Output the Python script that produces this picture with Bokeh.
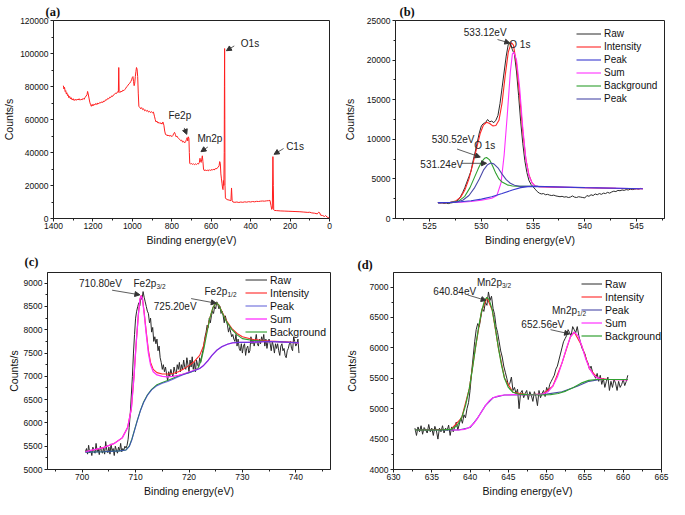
from bokeh.plotting import figure
from bokeh.layouts import column, row
from bokeh.models import (Range1d, FixedTicker, Legend, LegendItem, Arrow,
                          NormalHead, BasicTickFormatter)
from bokeh.core.properties import value
from bokeh.embed import file_html
from bokeh.resources import INLINE

FONT = "Liberation Sans"
SERIF = "Liberation Serif"

# ---------------- (a) survey spectrum ----------------
A_XTICKS = [0, 200, 400, 600, 800, 1000, 1200, 1400]
A_XMINOR = [100, 300, 500, 700, 900, 1100, 1300]
A_YTICKS = [0, 20000, 40000, 60000, 80000, 100000, 120000]
A_YMINOR = [10000, 30000, 50000, 70000, 90000, 110000]
SURVEY = [
    (1350, 80500), (1347, 78500), (1344, 79500), (1341, 77000), (1338, 77500), (1335, 75500),
    (1332, 76200), (1329, 74500), (1326, 75000), (1322, 73200), (1318, 74000), (1314, 72500),
    (1310, 73200), (1305, 71800), (1300, 72600), (1295, 71500), (1290, 72300), (1285, 71600),
    (1280, 72400), (1275, 71800), (1270, 72600), (1265, 71700), (1260, 72300), (1255, 71900),
    (1250, 72800), (1245, 72200), (1240, 73300), (1235, 74200), (1230, 75000), (1227, 77000),
    (1224, 75500), (1220, 73000), (1216, 70500), (1212, 69000), (1208, 68000), (1204, 69200),
    (1200, 68200), (1195, 69300), (1190, 68800), (1185, 69800), (1180, 69000), (1175, 70000),
    (1170, 69500), (1165, 70400), (1160, 70000), (1155, 70800), (1150, 70300), (1145, 71200),
    (1140, 71000), (1135, 72000), (1130, 71800), (1125, 72800), (1120, 72500), (1115, 73500),
    (1110, 73300), (1105, 74300), (1100, 74000), (1095, 75000), (1090, 75300), (1085, 76000),
    (1080, 75800), (1075, 76800), (1071, 76500), (1069, 91500), (1067, 77000), (1063, 76300),
    (1058, 77200), (1053, 76800), (1048, 77800), (1043, 77500), (1038, 78200), (1033, 79000),
    (1028, 80000), (1023, 80500), (1018, 81500), (1013, 82000), (1008, 83000), (1004, 84000),
    (1000, 85500), (997, 86000), (994, 83000), (991, 80500), (988, 82000), (985, 86000),
    (982, 89000), (979, 91500), (976, 90500), (973, 86000), (970, 76000), (967, 68000),
    (963, 67500), (958, 66500), (953, 67200), (948, 66000), (943, 66500), (938, 65300),
    (933, 65800), (928, 65000), (923, 65500), (918, 64500), (913, 65000), (908, 64200),
    (903, 64800), (898, 64000), (893, 64500), (888, 62000), (884, 60000), (880, 58500),
    (875, 59000), (870, 57800), (865, 58300), (860, 57500), (855, 58000), (850, 57200),
    (845, 58500), (840, 56500), (836, 53000), (832, 51000), (828, 50500), (824, 50800),
    (820, 50000), (815, 50600), (810, 49800), (805, 50400), (800, 49600), (795, 50200),
    (790, 51500), (786, 52200), (782, 51000), (778, 49500), (774, 50000), (770, 49000),
    (765, 48500), (760, 48000), (755, 47200), (750, 47500), (745, 46300), (740, 46800),
    (735, 45800), (730, 46500), (726, 47800), (722, 49000), (719, 47000), (716, 49500),
    (713, 48500), (711, 40000), (709, 33500), (705, 33000), (700, 33300), (695, 32800),
    (690, 33200), (685, 32600), (680, 33100), (675, 32700), (670, 33300), (665, 33000),
    (660, 34000), (657, 36500), (654, 34500), (651, 34000), (648, 36000), (645, 38000),
    (642, 34500), (639, 30000), (635, 29000), (630, 29500), (625, 28800), (620, 29400),
    (615, 28900), (610, 29600), (605, 29000), (600, 29700), (595, 29200), (590, 29900),
    (585, 29400), (580, 30200), (575, 30000), (570, 30600), (565, 31000), (560, 32000),
    (557, 34500), (554, 33500), (551, 27000), (548, 24000), (545, 21000), (542, 18000),
    (540, 17500), (538, 23000), (536, 20000), (534, 40000), (533, 80000), (532, 103000),
    (531, 60000), (530, 20000), (528, 12500), (524, 11800), (520, 11500), (515, 11300),
    (510, 11200), (505, 11000), (500, 10800), (497, 18500), (494, 11000), (490, 10000),
    (480, 9800), (470, 10000), (460, 9700), (450, 10000), (440, 9800), (430, 10100),
    (420, 9900), (410, 10200), (400, 10000), (390, 10300), (380, 10100), (370, 10400),
    (360, 10300), (350, 10500), (340, 10600), (330, 10500), (320, 10700), (310, 10800),
    (302, 11000), (297, 8000), (293, 5500), (290, 6000), (287, 37500), (285, 20000),
    (283, 5200), (280, 4900), (270, 4800), (250, 4600), (230, 4500), (210, 4400),
    (190, 4300), (170, 4200), (150, 4100), (130, 3900), (110, 3700), (100, 3800),
    (90, 3400), (75, 3200), (62, 2800), (55, 3800), (50, 3500), (45, 2000),
    (35, 1800), (25, 1200), (20, 1800), (12, 800), (5, 600), (0, 200),
]

# ---------------- (b) O 1s ----------------
B_XTICKS = [525, 530, 535, 540, 545]
B_XMINOR = [522.5, 527.5, 532.5, 537.5, 542.5, 547.5]
B_YTICKS = [0, 5000, 10000, 15000, 20000, 25000]
B_YMINOR = [2500, 7500, 12500, 17500, 22500]
RAW_B_START, RAW_B_STEP = 525.8, 0.2
RAW_B = [2000, 1950, 1980, 1900, 1950, 1880, 1950, 2000, 2050, 2150,
         2400, 2800, 3300, 3900, 4600, 5300, 6000, 7300, 8400, 9600,
         10800, 11700, 12000, 12100, 12500, 12200, 12300, 12100, 12400, 13000,
         14500, 16500, 18500, 20500, 22000, 22100, 21300, 20700, 18500, 15500,
         12200, 9500, 7300, 5800, 4800, 4300, 4000, 3700, 3400, 3200,
         3100, 3150, 3000, 3050, 2950, 2900, 2950, 2850, 2800, 2750,
         2800, 2700, 2750, 2650, 2700, 2850, 2700, 2650, 2750, 2700,
         2650, 2600, 2900, 2800, 3000, 2900, 3100, 3000, 3150, 3050,
         3200, 3150, 3300, 3200, 3350, 3450, 3400, 3550, 3500, 3600,
         3550, 3650, 3600, 3700, 3650, 3700, 3750, 3700, 3800, 3750]
B_INTENSITY = [(525.8, 2000), (526.5, 2000), (527.0, 2050), (527.5, 2200), (528.0, 2700),
               (528.4, 3600), (528.8, 5000), (529.2, 7000), (529.6, 9200), (529.9, 10800),
               (530.2, 11800), (530.5, 12150), (530.8, 12000), (531.1, 11700), (531.4, 11750),
               (531.7, 12400), (532.0, 14600), (532.3, 18000), (532.6, 21000), (532.9, 22200),
               (533.1, 21900), (533.4, 19500), (533.7, 15500), (534.0, 11000), (534.3, 7500),
               (534.6, 5500), (534.9, 4500), (535.2, 4100), (535.6, 4000), (537.0, 3960),
               (540.0, 3880), (543.0, 3800), (545.6, 3750)]
B_SUM = [(525.8, 2000), (528.0, 2050), (529.0, 2150), (530.0, 2300), (531.0, 2550),
         (531.5, 2900), (531.9, 4500), (532.2, 8000), (532.5, 13000), (532.8, 18500),
         (533.0, 20800), (533.15, 21000), (533.4, 20000), (533.7, 16500), (534.0, 11500),
         (534.3, 7500), (534.6, 5400), (534.9, 4500), (535.2, 4100), (535.6, 4000), (545.6, 3750)]
B_BACKGROUND = [(525.8, 2000), (527.0, 2020), (527.8, 2200), (528.4, 2800), (528.9, 3900),
                (529.3, 5100), (529.7, 6300), (530.0, 7100), (530.3, 7600), (530.5, 7700),
                (530.8, 7400), (531.1, 6600), (531.4, 5700), (531.7, 5000), (532.0, 4600),
                (532.5, 4250), (533.0, 4100), (533.8, 4050), (535.0, 4050)]
B_PEAK2 = [(525.8, 2000), (527.5, 2050), (528.2, 2300), (528.8, 2900), (529.3, 3800),
           (529.8, 5000), (530.2, 6100), (530.6, 6800), (530.9, 7000), (531.2, 6900),
           (531.6, 6400), (532.0, 5600), (532.4, 4900), (532.8, 4450), (533.2, 4200),
           (533.7, 4080), (534.5, 4050), (535.5, 4050)]
B_PEAK = [(525.8, 2000), (527.0, 2030), (528.0, 2120), (529.0, 2250), (530.0, 2450),
          (531.0, 2750), (532.0, 3150), (533.0, 3600), (533.8, 3900), (534.5, 4030),
          (535.2, 4050), (540.0, 3900), (545.6, 3750)]
B_ZERO = [(530.9, 0), (547.7, 0)]

# ---------------- (c) Fe 2p ----------------
C_XTICKS = [700, 710, 720, 730, 740]
C_XMINOR = [695, 705, 715, 725, 735, 745]
C_YTICKS = [5000, 5500, 6000, 6500, 7000, 7500, 8000, 8500, 9000]
C_YMINOR = [5250, 5750, 6250, 6750, 7250, 7750, 8250, 8750, 9250]
RAW_C_START, RAW_C_STEP = 700.6, 0.2
RAW_C = [5380, 5450, 5330, 5520, 5360, 5420, 5300, 5480, 5400, 5350,
         5560, 5380, 5440, 5320, 5500, 5400, 5350, 5470, 5330, 5600,
         5420, 5360, 5480, 5330, 5550, 5400, 5450, 5300, 5500, 5420,
         5350, 5480, 5400, 5560, 5380, 5450, 5420, 5500, 5460, 5520,
         5650, 5900, 6200, 6600, 7000, 7500, 7900, 8250, 8400, 8500,
         8580, 8520, 8700, 8650, 8820, 8700, 8600, 8500, 8400, 8350,
         8150, 8250, 7950, 8050, 7750, 7850, 7700, 7800, 7550, 7650,
         7400, 7300, 7150, 7250, 7100, 7200, 7050, 6900, 7100, 7000,
         7150, 7050, 7000, 7200, 7100, 7050, 7250, 7150, 7300, 7100,
         7250, 7150, 7350, 7200, 7150, 7400, 7250, 7100, 7350, 7200,
         7420, 7150, 7300, 7100, 7350, 7250, 7200, 7400, 7300, 7450,
         7550, 7700, 7850, 7950, 8100, 8050, 8250, 8150, 8300, 8400,
         8350, 8500, 8450, 8600, 8550, 8450, 8500, 8350, 8400, 8300,
         8150, 8300, 8200, 8100, 7950, 8050, 7950, 7850, 7900, 7800,
         7750, 7900, 7650, 7800, 7600, 7550, 7700, 7500, 7650, 7700,
         7450, 7600, 7650, 7500, 7550, 7850, 7700, 7800, 7650, 7750,
         7900, 7700, 7650, 7800, 7700, 7850, 7750, 7900, 7650, 7800,
         7600, 7750, 7800, 7700, 7550, 7750, 7650, 7500, 7700, 7600,
         7700, 7550, 7450, 7650, 7700, 7550, 7600, 7450, 7400, 7550,
         7600, 7700, 7750, 7600, 7550, 7850, 7750, 7650, 7700, 7800,
         7500]
C_SUM = [(700.6, 5380), (702.0, 5420), (704.0, 5470), (706.0, 5560), (707.5, 5680),
         (708.5, 5900), (709.2, 6300), (709.7, 7000), (710.1, 7700), (710.5, 8300),
         (710.8, 8650), (711.05, 8730), (711.3, 8650), (711.6, 8350), (712.0, 7900),
         (712.4, 7500), (712.8, 7250), (713.3, 7100), (714.0, 7030), (715.0, 7000),
         (716.0, 6990), (717.0, 7000), (718.0, 7020), (719.0, 7050), (720.0, 7090),
         (721.0, 7130), (722.0, 7170), (722.7, 7230), (723.5, 7330), (724.3, 7450),
         (725.2, 7560), (726.2, 7640), (727.2, 7690), (728.2, 7720), (729.5, 7730),
         (731.0, 7730), (733.0, 7740), (735.0, 7750), (737.0, 7740), (740.6, 7720)]
C_INTENSITY = [(700.6, 5380), (702.0, 5420), (704.0, 5470), (706.0, 5560), (707.5, 5680),
               (708.5, 5900), (709.2, 6300), (709.7, 7000), (710.1, 7700), (710.5, 8300),
               (710.8, 8650), (711.05, 8740), (711.3, 8660), (711.6, 8380), (712.0, 7950),
               (712.4, 7560), (712.8, 7300), (713.3, 7150), (714.0, 7080), (715.0, 7050),
               (716.0, 7050), (717.0, 7060), (718.0, 7100), (719.0, 7160), (720.0, 7230),
               (721.0, 7320), (722.0, 7450), (722.7, 7650), (723.3, 7950), (723.9, 8250),
               (724.5, 8480), (725.1, 8580), (725.6, 8530), (726.2, 8380), (727.0, 8200),
               (728.0, 8030), (729.0, 7920), (730.0, 7850), (732.0, 7790), (735.0, 7760),
               (738.0, 7740), (740.6, 7720)]
C_BACKGROUND = [(700.6, 5370), (704.0, 5380), (707.0, 5400), (708.2, 5420), (708.8, 5500),
                (709.3, 5650), (709.8, 5850), (710.3, 6050), (710.9, 6270), (711.5, 6450),
                (712.2, 6600), (713.0, 6720), (714.0, 6820), (715.0, 6870), (716.0, 6910),
                (717.0, 6960), (718.0, 7010), (719.0, 7050), (720.0, 7080), (721.0, 7120),
                (721.7, 7180), (722.3, 7350), (722.8, 7600), (723.3, 7900), (723.9, 8250),
                (724.5, 8480), (725.1, 8580), (725.6, 8530), (726.2, 8370), (727.0, 8180),
                (728.0, 8010), (729.0, 7890), (730.0, 7810), (732.0, 7770), (735.0, 7750),
                (740.6, 7720)]
C_PEAK = [(700.6, 5370), (704.0, 5380), (707.0, 5400), (708.2, 5420), (708.8, 5490),
          (709.3, 5640), (709.8, 5840), (710.3, 6040), (710.9, 6260), (711.5, 6440),
          (712.2, 6590), (713.0, 6710), (714.0, 6800), (715.0, 6850), (716.0, 6890),
          (717.0, 6940), (718.0, 6990), (719.0, 7040), (720.0, 7080), (721.0, 7120),
          (722.0, 7170), (722.7, 7230), (723.5, 7330), (724.3, 7450), (725.2, 7560),
          (726.2, 7640), (727.2, 7690), (728.2, 7720), (729.5, 7730), (731.0, 7730),
          (733.0, 7740), (735.0, 7750), (737.0, 7740), (740.6, 7720)]

# ---------------- (d) Mn 2p ----------------
D_XTICKS = [630, 635, 640, 645, 650, 655, 660, 665]
D_XMINOR = [632.5, 637.5, 642.5, 647.5, 652.5, 657.5, 662.5]
D_YTICKS = [4000, 4500, 5000, 5500, 6000, 6500, 7000]
D_YMINOR = [4250, 4750, 5250, 5750, 6250, 6750, 7250]
RAW_D_START, RAW_D_STEP = 632.8, 0.2
RAW_D = [4680, 4560, 4700, 4620, 4720, 4580, 4690, 4650, 4600, 4740,
         4620, 4680, 4560, 4710, 4640, 4500, 4680, 4620, 4720, 4600,
         4680, 4640, 4730, 4560, 4700, 4620, 4700, 4780, 4650, 4750,
         4850, 4760, 4900, 4850, 5000, 5100, 5300, 5600, 5850, 6100,
         6300, 6400, 6350, 6500, 6650, 6600, 6750, 6700, 6920, 6780,
         6850, 6650, 6550, 6350, 6250, 6100, 5950, 5850, 5700, 5600,
         5500, 5380, 5420, 5520, 5300, 5350, 5250, 5320, 5000, 5260,
         5300, 5180, 5250, 5300, 5150, 5280, 5220, 5120, 5280, 5200,
         5050, 5300, 5180, 5250, 5300, 5200, 5350, 5280, 5400, 5450,
         5500, 5550, 5650, 5700, 5800, 5900, 6000, 6100, 6150, 6200,
         6300, 6250, 6200, 6350, 6300, 6250, 6350, 6200, 6100, 6000,
         5950, 5900, 5800, 5750, 5650, 5700, 5600, 5550, 5500, 5580,
         5450, 5550, 5400, 5500, 5350, 5450, 5520, 5300, 5450, 5350,
         5480, 5420, 5300, 5450, 5350, 5400, 5480, 5380, 5450, 5550]
D_INTENSITY = [(632.8, 4650), (637.5, 4660), (638.9, 4850), (639.9, 5330), (640.7, 6000),
               (641.5, 6600), (642.2, 6830), (642.9, 6620), (643.7, 6000), (644.5, 5500),
               (645.6, 5270), (647.5, 5230), (649.5, 5240), (650.8, 5370), (652.0, 5750),
               (653.1, 6180), (653.6, 6260), (654.6, 6030), (655.6, 5660), (656.6, 5510),
               (658.0, 5480), (660.6, 5475)]
D_PEAK = [(632.8, 4650), (638.5, 4650), (640.0, 4690), (641.0, 4850), (642.0, 5050),
          (643.0, 5180), (644.5, 5225), (648.0, 5230), (650.0, 5240), (652.0, 5280),
          (654.0, 5370), (655.5, 5450), (657.0, 5480), (660.6, 5480)]
D_SUM = [(637.5, 4650), (638.5, 4650), (639.3, 4660), (639.9, 4690), (640.5, 4760),
         (641.0, 4850), (641.5, 4950), (642.0, 5050), (642.5, 5130), (643.0, 5180),
         (643.7, 5210), (644.5, 5225), (645.5, 5230), (647.0, 5230), (648.5, 5230),
         (649.5, 5240), (650.2, 5280), (650.8, 5370), (651.4, 5520), (652.0, 5750),
         (652.6, 6000), (653.1, 6180), (653.6, 6260), (654.1, 6200), (654.6, 6030),
         (655.1, 5820), (655.6, 5660), (656.1, 5560), (656.6, 5510), (657.2, 5485),
         (658.0, 5480), (660.6, 5475)]
D_BACKGROUND = [(632.8, 4650), (636.0, 4650), (637.5, 4660), (638.3, 4720), (638.9, 4850),
                (639.4, 5050), (639.9, 5330), (640.3, 5650), (640.7, 6000), (641.1, 6330),
                (641.5, 6600), (641.9, 6780), (642.2, 6830), (642.5, 6790), (642.9, 6620),
                (643.3, 6330), (643.7, 6000), (644.1, 5720), (644.5, 5500), (645.0, 5350),
                (645.6, 5270), (646.3, 5240), (647.5, 5230), (649.0, 5225), (650.5, 5230),
                (651.5, 5250), (652.5, 5290), (653.5, 5350), (654.5, 5420), (655.5, 5465),
                (656.5, 5480), (658.0, 5480), (660.6, 5480)]

# colours
C_RAW = "#2a2a2a"
C_RED = "#ff2626"
C_BLUE = "#3a3ad0"
C_MAG = "#ff30ff"
C_GRN = "#2f9f2f"
C_NAVY = "#4a4aa8"
C_ANN = "#333333"


def make_fig(w, h, xr, yr, xt, xm, yt, ym, bl, br, bt, bb, ystand, tag, tag_off, tag_stand):
    p = figure(width=w, height=h, x_range=Range1d(*xr), y_range=Range1d(*yr),
               output_backend="svg", toolbar_location=None,
               min_border_left=bl, min_border_right=br,
               min_border_top=bt, min_border_bottom=bb)
    p.title.text = tag
    p.title.text_font = SERIF
    p.title.text_font_style = "bold"
    p.title.text_font_size = "12.5px"
    p.title.text_color = "#111111"
    p.title.align = "left"
    p.title.offset = tag_off
    p.title.standoff = tag_stand
    p.xgrid.visible = False
    p.ygrid.visible = False
    p.outline_line_color = "#222222"
    p.outline_line_width = 1
    p.outline_line_alpha = 1
    p.xaxis.ticker = FixedTicker(ticks=xt, minor_ticks=xm)
    p.yaxis.ticker = FixedTicker(ticks=yt, minor_ticks=ym)
    p.yaxis.formatter = BasicTickFormatter(use_scientific=False)
    p.xaxis.formatter = BasicTickFormatter(use_scientific=False)
    for ax in (p.xaxis[0], p.yaxis[0]):
        ax.axis_line_color = "#222222"
        ax.major_tick_line_color = "#222222"
        ax.minor_tick_line_color = "#222222"
        ax.major_tick_in = 0
        ax.major_tick_out = 3
        ax.minor_tick_in = 0
        ax.minor_tick_out = 2
        ax.major_label_text_font = FONT
        ax.major_label_text_font_size = "8.5px"
        ax.major_label_text_color = "#111111"
        ax.major_label_standoff = 2
        ax.axis_label_text_font = FONT
        ax.axis_label_text_font_size = "10.5px"
        ax.axis_label_text_font_style = "normal"
        ax.axis_label_text_color = "#111111"
    p.xaxis.axis_label = "Binding energy(eV)"
    p.yaxis.axis_label = "Counts/s"
    p.xaxis.axis_label_standoff = 2
    p.xaxis.major_label_standoff = 1
    p.yaxis.axis_label_standoff = ystand
    return p


def pline(p, pts, color, width=1.1, alpha=1.0):
    return p.line([a for a, b in pts], [b for a, b in pts],
                  line_color=color, line_width=width, line_alpha=alpha)


def raw_line(p, start, step, vals, color, width=1.0):
    xs = [round(start + step * i, 3) for i in range(len(vals))]
    return p.line(xs, vals, line_color=color, line_width=width)


def texts(p, items, size="10px"):
    p.text(x=[i[0] for i in items], y=[i[1] for i in items], text=[i[2] for i in items],
           text_font=value(FONT), text_font_size=size, text_color="#222222",
           text_baseline="middle", text_align="left")


def subs(p, items):
    p.text(x=[i[0] for i in items], y=[i[1] for i in items], text=[i[2] for i in items],
           x_offset=[i[3] for i in items], y_offset=3,
           text_font=value(FONT), text_font_size="6.5px", text_color="#222222",
           text_baseline="middle", text_align="left")


def arrow(p, x0, y0, x1, y1):
    p.add_layout(Arrow(x_start=x0, y_start=y0, x_end=x1, y_end=y1,
                       line_color=C_ANN, line_width=0.8,
                       end=NormalHead(size=5, fill_color=C_ANN, line_color=C_ANN)))


def legend(p, items, loc, gw, size):
    leg = Legend(items=[LegendItem(label=l, renderers=[r]) for l, r in items],
                 location=loc, padding=1, spacing=0, margin=0, label_standoff=3,
                 glyph_width=gw, glyph_height=13, label_height=13,
                 label_text_font=FONT, label_text_font_size=size,
                 label_text_color="#111111",
                 background_fill_alpha=0, border_line_alpha=0)
    p.add_layout(leg)


# ---------------- panel (a) ----------------
pa = make_fig(334, 248, (1400, 0), (0, 120000), A_XTICKS, A_XMINOR, A_YTICKS, A_YMINOR,
              48, 5, 20, 30, 2, "(a)", -8, 3)
pline(pa, SURVEY, "#ff1f1f", 1.0)
texts(pa, [(450, 106000, "O1s"), (817, 62600, "Fe2p"), (670, 48200, "Mn2p"),
           (220, 43900, "C1s")])
arrow(pa, 483, 104600, 523, 101700)
arrow(pa, 737, 54900, 724, 51000)
arrow(pa, 617, 43350, 652, 40500)
arrow(pa, 233, 42400, 281, 38900)

# ---------------- panel (b) ----------------
pb = make_fig(335, 248, (521.7, 547.7), (0, 25000), B_XTICKS, B_XMINOR, B_YTICKS, B_YMINOR,
              61, 5, 20, 30, 8, "(b)", 4, 3)
rb_raw = raw_line(pb, RAW_B_START, RAW_B_STEP, RAW_B, C_RAW)
rb_int = pline(pb, B_INTENSITY, C_RED)
rb_sum = pline(pb, B_SUM, C_MAG)
rb_bg = pline(pb, B_BACKGROUND, C_GRN)
rb_pk2 = pline(pb, B_PEAK2, C_NAVY)
rb_pk = pline(pb, B_PEAK, C_BLUE)
pline(pb, B_ZERO, C_BLUE)
texts(pb, [(528.3, 23440, "533.12eV"), (532.7, 22000, "O 1s"), (525.2, 9980, "530.52eV"),
           (529.3, 9250, "O 1s"), (524.1, 6850, "531.24eV")])
arrow(pb, 531.56, 22600, 532.75, 22150)
arrow(pb, 527.65, 8770, 529.9, 7750)
arrow(pb, 528.1, 6970, 530.5, 6970)
legend(pb, [("Raw", rb_raw), ("Intensity", rb_int), ("Peak", rb_pk), ("Sum", rb_sum),
            ("Background", rb_bg), ("Peak", rb_pk2)], (180, 112), 25, "10px")

# ---------------- panel (c) ----------------
pc = make_fig(334, 251, (693.5, 746.5), (5000, 9230), C_XTICKS, C_XMINOR, C_YTICKS, C_YMINOR,
              47, 4, 24, 30, 1, "(c)", -23, 8)
rc_raw = raw_line(pc, RAW_C_START, RAW_C_STEP, RAW_C, C_RAW)
rc_int = pline(pc, C_INTENSITY, C_RED)
rc_bg = pline(pc, C_BACKGROUND, C_GRN)
rc_sum = pline(pc, C_SUM, C_MAG, 1.3)
rc_pk = pline(pc, C_PEAK, C_BLUE, 1.1, 0.75)
texts(pc, [(699.4, 9000, "710.80eV"), (709.6, 9000, "Fe2p"), (722.9, 8820, "Fe2p"),
           (713.4, 8510, "725.20eV")])
subs(pc, [(709.6, 9000, "3/2", 23), (722.9, 8820, "1/2", 23)])
arrow(pc, 705.6, 8850, 710.8, 8750)
arrow(pc, 720.4, 8670, 725.1, 8570)
legend(pc, [("Raw", rc_raw), ("Intensity", rc_int), ("Peak", rc_pk), ("Sum", rc_sum),
            ("Background", rc_bg)], (197, 130), 22, "10.5px")

# ---------------- panel (d) ----------------
pd_ = make_fig(335, 251, (630, 665), (4000, 7240), D_XTICKS, D_XMINOR, D_YTICKS, D_YMINOR,
               59, 8, 24, 30, 9, "(d)", -36, 1)
rd_raw = raw_line(pd_, RAW_D_START, RAW_D_STEP, RAW_D, C_RAW)
rd_int = pline(pd_, D_INTENSITY, C_RED)
rd_pk = pline(pd_, D_PEAK, C_NAVY)
rd_sum = pline(pd_, D_SUM, C_MAG, 1.2)
rd_bg = pline(pd_, D_BACKGROUND, C_GRN, 1.2)
texts(pd_, [(635.2, 6930, "640.84eV"), (640.9, 7080, "Mn2p"), (650.7, 6610, "Mn2p"),
            (646.7, 6390, "652.56eV")])
subs(pd_, [(640.9, 7080, "3/2", 25), (650.7, 6610, "1/2", 25)])
arrow(pd_, 639.7, 6870, 642.1, 6780)
arrow(pd_, 650.5, 6300, 653.0, 6230)
legend(pd_, [("Raw", rd_raw), ("Intensity", rd_int), ("Peak", rd_pk), ("Sum", rd_sum),
             ("Background", rd_bg)], (187, 126), 21, "10.5px")

layout = column(row(pa, pb), row(pc, pd_))
open("out.html", "w").write(file_html(layout, INLINE))
